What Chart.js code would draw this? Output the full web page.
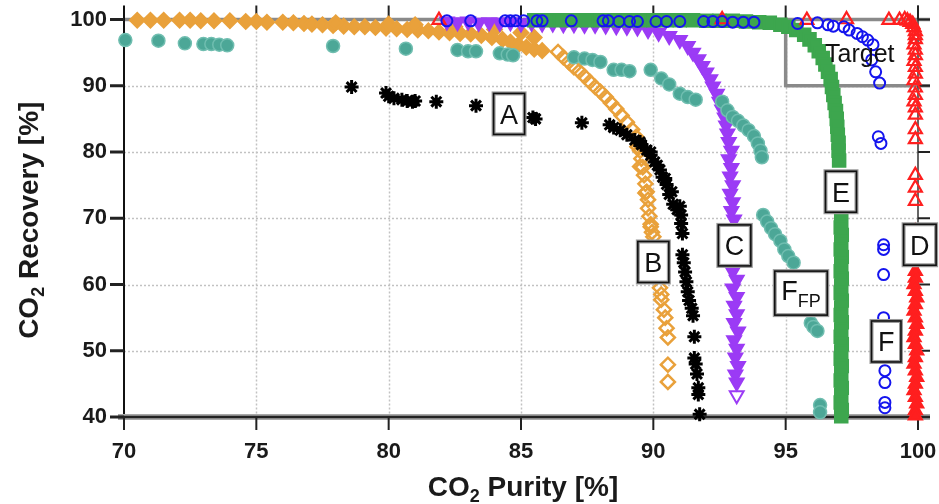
<!DOCTYPE html>
<html><head><meta charset="utf-8">
<script src="https://cdn.jsdelivr.net/npm/chart.js@4.4.1/dist/chart.umd.min.js"></script>
<style>html,body{margin:0;padding:0;background:#fff;}#wrap{width:939px;height:504px;}</style>
</head><body><div id="wrap"><canvas id="c" width="939" height="504" style="width:939px;height:504px"></canvas></div>
<script>
// ---- data: [CO2 purity %, CO2 recovery %] ----
const X_TICKS = [70, 75, 80, 85, 90, 95, 100];
const Y_TICKS = [40, 50, 60, 70, 80, 90, 100];
const X_TITLE = ['CO', '2', ' Purity [%]'];
const Y_TITLE = ['CO', '2', ' Recovery [%]'];

const SERIES_A = [[78.6,89.8],[79.9,88.9],[80.0,88.4],[80.2,88.1],[80.5,87.9],[80.7,87.7],[80.9,87.6],[81.0,87.7],[81.8,87.6],[83.3,87.0],[85.45,85.2],[85.55,85.0],[87.3,84.4],[88.35,84.1],[88.5,83.7],[88.75,83.3],[89.0,82.6],[89.3,81.8],[89.5,81.5],[89.55,81.1],[89.75,80.3],[89.9,80.0],[89.9,79.5],[90.05,78.5],[90.15,78.0],[90.25,77.3],[90.35,76.2],[90.45,76.0],[90.5,75.1],[90.6,73.6],[90.7,74.0],[90.75,72.1],[90.9,71.3],[91.0,71.8],[91.05,70.5],[91.05,69.2],[91.1,67.7],[91.1,64.5],[91.15,63.3],[91.2,61.9],[91.25,60.4],[91.3,58.9],[91.35,57.6],[91.45,56.4],[91.5,55.3],[91.55,52.1],[91.55,48.9],[91.6,48.0],[91.65,46.5],[91.7,44.4],[91.7,43.4],[91.75,40.4]];

const SERIES_B = [[70.5,99.9],[71.0,99.9],[71.5,99.9],[72.1,99.9],[72.5,99.9],[72.9,99.8],[73.4,99.8],[74.0,99.8],[74.6,99.7],[75.0,99.7],[75.4,99.6],[76.0,99.6],[76.4,99.5],[76.8,99.4],[77.1,99.3],[77.5,99.2],[77.9,99.1],[78.3,99.0],[78.7,98.9],[79.1,98.9],[79.5,98.8],[79.9,98.7],[80.3,98.6],[80.7,98.5],[81.1,98.4],[81.5,98.3],[81.9,98.1],[82.3,98.0],[82.7,97.9],[83.1,97.8],[83.5,97.6],[83.9,97.3],[84.3,97.0],[84.6,96.6],[84.9,96.2],[85.2,95.8],[85.5,95.5],[85.8,95.3],[81.0,99.2],[82.5,98.9],[84.0,98.5],[85.0,98.0],[85.5,97.3],[78.0,99.5],[80.0,99.3],
[86.4,95.1],[86.6,94.3],[86.8,93.6],[87.0,92.8],[87.2,92.2],[87.4,91.4],[87.6,90.6],[87.8,89.8],[88.0,89.1],[88.2,88.3],[88.4,87.4],[88.6,86.5],[88.8,85.5],[89.0,84.5],[89.2,83.4],[89.35,82.3],[89.4,80.8],[89.45,81.2],[89.5,80.2],[89.5,77.8],[89.55,79.0],[89.6,77.7],[89.65,76.5],[89.7,75.2],[89.7,73.8],[89.75,74.0],[89.8,72.8],[89.8,71.5],[89.85,70.3],[89.9,69.1],[89.9,68.7],[89.95,67.9],[90.0,67.2],
[90.25,59.5],[90.3,58.5],[90.3,57.7],[90.4,56.2],[90.45,55.0],[90.5,53.4],[90.55,52.0],[90.55,47.9],[90.55,45.3]];

const SERIES_C = [[82.2,99.7],[82.6,99.6],[83.0,99.7],[83.4,99.5],[83.8,99.6],[84.2,99.5],[84.6,99.6],[85.0,99.4],[85.4,99.5],[85.8,99.4],[86.2,99.4],[86.6,99.3],[87.0,99.3],[87.4,99.2],[87.8,99.2],[88.2,99.1],[88.6,99.0],[89.0,98.9],[89.4,98.8],[89.8,98.4],[90.2,98.0],[90.6,97.5],[91.0,96.9],[91.3,96.0],[91.5,95.0],[91.7,94.0],[91.85,93.0],[92.0,92.0],[92.15,91.0],[92.25,89.9],[92.4,88.8],[92.5,87.6],[92.6,86.4],[92.7,85.2],[92.75,84.0],[92.8,82.8],
[92.85,81.5],[92.95,80.2],[92.85,78.9],[92.95,77.6],[92.9,76.3],[93.0,75.0],[92.9,73.7],[93.0,72.4],[92.95,71.1],[93.05,69.8],[92.95,68.5],[93.05,67.2],[92.95,65.5],[93.05,63.3],[93.0,62.0],[93.15,60.7],[93.0,59.4],[93.15,58.1],[93.05,56.8],[93.15,55.5],[93.05,54.2],[93.2,52.9],[93.05,51.6],[93.15,50.3],[93.1,49.0],[93.2,47.7],[93.1,46.4],[93.15,45.2],[93.15,43.3]];

const SERIES_D = [[81.9,99.9],[92.6,100],[95.8,99.9],[97.3,100],[98.9,99.9],[99.3,99.9],[99.5,100],[99.6,99.8],[99.7,99.6],[99.8,99.3],[99.85,98.8],[99.9,98.2],[99.9,97.6],[99.9,97.0],[99.85,96.2],[99.9,95.4],[99.9,94.6],[99.85,93.7],[99.9,92.8],[99.9,91.8],[99.85,90.8],[99.9,89.7],[99.9,88.6],[99.85,87.6],[99.9,86.7],[99.9,85.6],[99.9,83.4],[99.9,81.9],[99.9,76.5],[99.9,74.6],[99.9,72.6],[99.9,68.0],
[99.9,62.0],[99.9,61.0],[99.85,60.0],[99.9,59.0],[99.95,58.0],[99.9,57.0],[99.85,56.0],[99.9,55.0],[99.95,54.0],[99.9,53.0],[99.85,52.0],[99.9,51.0],[99.95,50.0],[99.9,49.0],[99.85,48.0],[99.9,47.0],[99.95,46.0],[99.9,45.0],[99.85,44.0],[99.9,43.0],[99.95,42.0],[99.9,41.0],[99.9,40.2]];

const SERIES_E = [[85.5,99.9],[86.0,99.9],[86.5,99.9],[87.0,99.9],[87.5,99.9],[88.0,99.9],[88.5,99.9],[89.0,99.9],[89.5,99.9],[90.0,99.9],[90.5,99.9],[91.0,99.9],[91.5,99.9],[92.0,99.8],[92.5,99.8],[93.0,99.8],[93.5,99.7],[94.0,99.6],[94.4,99.5],[94.8,99.2],[95.1,98.9],[95.4,98.4],[95.7,97.7],[95.9,97.0],[96.1,96.1],[96.25,95.2],[96.4,94.2],[96.5,93.2],[96.6,92.1],[96.7,91.0],[96.75,89.8],[96.8,88.6],[96.85,87.4],[96.9,86.2],[96.93,85.0],[96.95,83.8],[96.97,82.6],[97.0,81.4],[97.0,80.2],[97.02,78.7],
[97.1,69.7],[97.08,68.6],[97.12,67.5],[97.1,66.4],[97.08,65.3],[97.12,64.2],[97.1,63.1],[97.08,62.0],[97.12,60.9],[97.1,59.8],[97.08,58.7],[97.12,57.6],[97.1,56.5],[97.08,55.4],[97.12,54.3],[97.1,53.2],[97.08,52.1],[97.12,51.0],[97.1,49.9],[97.08,48.8],[97.12,47.7],[97.1,46.6],[97.08,45.5],[97.12,44.4],[97.1,43.3],[97.08,42.2],[97.12,41.1],[97.1,40.1]];

const SERIES_F = [[82.2,99.8],[83.1,99.8],[84.4,99.8],[84.6,99.8],[84.8,99.8],[85.1,99.8],[85.6,99.8],[85.8,99.8],[86.9,99.8],[88.1,99.8],[88.3,99.8],[88.7,99.7],[89.1,99.7],[89.4,99.7],[90.1,99.7],[90.5,99.7],[91.0,99.7],[91.9,99.7],[92.25,99.7],[92.6,99.7],[93.0,99.6],[93.4,99.6],[93.8,99.6],[95.45,99.4],[96.2,99.5],[96.6,99.2],[96.8,99.0],[97.2,98.9],[97.4,98.4],[97.7,97.9],[97.9,97.4],[98.1,96.9],[98.3,96.2],[98.25,93.9],[98.4,92.1],[98.55,90.4],[98.5,82.3],[98.6,81.3],[98.7,66.0],[98.7,65.3],[98.7,61.5],[98.7,55.0],[98.75,47.0],[98.75,45.2],[98.75,42.2],[98.75,41.4]];

const SERIES_FFP = [[70.05,96.9],[71.3,96.8],[72.3,96.4],[73.0,96.3],[73.3,96.3],[73.6,96.2],[73.9,96.1],[77.9,96.0],[80.65,95.6],[82.6,95.4],[83.0,95.2],[83.3,95.2],[84.2,94.9],[84.5,94.7],[84.7,94.6],[87.0,94.3],[87.4,94.1],[87.7,93.9],[88.0,93.6],[88.5,92.4],[88.8,92.4],[89.1,92.2],[89.9,92.4],[90.3,91.1],[90.6,90.2],[91.0,88.8],[91.3,88.3],[91.6,87.9],[92.6,87.6],[92.8,86.3],[93.0,85.3],[93.2,84.7],[93.4,84.0],[93.6,83.3],[93.8,82.4],[93.95,81.3],[94.05,80.2],[94.1,79.2],[94.15,70.5],[94.3,69.5],[94.45,68.5],[94.6,67.6],[94.8,66.6],[94.95,65.3],[95.1,64.3],[95.3,63.3],[95.95,54.2],[96.05,53.6],[96.2,53.0],[96.3,41.8],[96.3,40.7]];

// boxed series labels
const LABEL_MAIN = ['A', 'B', 'C', 'D', 'E', 'F', 'F'];
const LABEL_SUB = ['', '', '', '', '', '', 'FP'];
const LABEL_PURITY = [84.55, 90.0, 93.07, 100.07, 97.09, 98.8, 95.58];
const LABEL_RECOVERY = [85.75, 63.4, 65.9, 66.0, 74.0, 51.4, 58.7];
const TARGET_PURITY = [95, 100];
const TARGET_RECOVERY = [90, 100];
const TARGET_TEXT = 'Target';
const TARGET_TEXT_AT = [97.8, 93.6];

const FONT = "'Liberation Sans', Arial, sans-serif";
const ORANGE = '#E9A13B', PURPLE = '#9B3BF5', GREEN = '#3DA64E', RED = '#FF1F1F',
      BLUE = '#1414EE', TEAL = '#4CA797', BLACK = '#000000';
const NONE = 'rgba(0,0,0,0)';
const pts = a => a.map(p => ({x: p[0], y: p[1]}));

const datasets = [
  {label: 'F', data: pts(SERIES_F), pointStyle: 'circle', pointRadius: 5.5, borderWidth: 2, borderColor: BLUE, backgroundColor: NONE, order: 0},
  {label: 'D', data: pts(SERIES_D), pointStyle: 'triangle', pointRadius: 7.5, borderWidth: 2.2, borderColor: RED,
    backgroundColor: c => (c.raw && c.raw.y < 63) ? RED : NONE, order: 1},
  {label: 'A', data: pts(SERIES_A), pointStyle: 'star', pointRadius: 7, borderWidth: 3, borderColor: BLACK, backgroundColor: BLACK, order: 2},
  {label: 'FFP', data: pts(SERIES_FFP), pointStyle: 'circle', pointRadius: 6.5, borderWidth: 1.5, borderColor: '#70BEB0', backgroundColor: TEAL, order: 3},
  {label: 'E', data: pts(SERIES_E), pointStyle: 'rect', pointRadius: 8.5, borderWidth: 2.5, borderColor: GREEN, backgroundColor: GREEN, order: 4},
  {label: 'C', data: pts(SERIES_C), pointStyle: 'triangle', rotation: 180, pointRadius: 8, borderWidth: 2, borderColor: PURPLE,
    backgroundColor: c => (c.raw && c.raw.y < 44) ? NONE : PURPLE, order: 5},
  {label: 'B', data: pts(SERIES_B), pointStyle: 'rectRot', pointRadius: 7, borderWidth: 2.5, borderColor: ORANGE,
    backgroundColor: c => (c.raw && c.raw.x < 86.2) ? ORANGE : NONE, order: 6}
].map(d => Object.assign({clip: false, pointHoverRadius: d.pointRadius}, d));

function line(ctx, x1, y1, x2, y2) { ctx.beginPath(); ctx.moveTo(x1, y1); ctx.lineTo(x2, y2); ctx.stroke(); }

function richWidth(ctx, main, sub, mainFont, subFont, rest) {
  ctx.font = mainFont; let w = ctx.measureText(main).width + (rest ? ctx.measureText(rest).width : 0);
  ctx.font = subFont; w += ctx.measureText(sub).width; return w;
}
function richDraw(ctx, x, y, main, sub, mainFont, subFont, subDy, rest) {
  ctx.textAlign = 'left'; ctx.textBaseline = 'alphabetic';
  ctx.font = mainFont; ctx.fillText(main, x, y); x += ctx.measureText(main).width;
  ctx.font = subFont; ctx.fillText(sub, x, y + subDy); x += ctx.measureText(sub).width;
  if (rest) { ctx.font = mainFont; ctx.fillText(rest, x, y); }
}

const framePlugin = {
  id: 'frame',
  beforeDatasetsDraw(chart) {
    const {ctx, chartArea: a, scales: {x, y}} = chart;
    ctx.save();
    ctx.strokeStyle = '#c2c2c2'; ctx.lineWidth = 1.5; ctx.setLineDash([2, 2]);
    X_TICKS.forEach(v => { if (v > x.min && v < x.max) { const p = Math.round(x.getPixelForValue(v)) + 0.5; line(ctx, p, a.top, p, a.bottom); } });
    Y_TICKS.forEach(v => { if (v > y.min && v < y.max) { const p = Math.round(y.getPixelForValue(v)) + 0.5; line(ctx, a.left, p, a.right, p); } });
    ctx.setLineDash([]);
    ctx.strokeStyle = '#8a8a8a'; ctx.lineWidth = 3.5;
    const tx0 = x.getPixelForValue(TARGET_PURITY[0]), ty0 = y.getPixelForValue(TARGET_RECOVERY[0]);
    const ty1 = y.getPixelForValue(TARGET_RECOVERY[1]);
    line(ctx, tx0, ty0, a.right + 12, ty0);
    line(ctx, tx0, ty0 + 1.5, tx0, ty1);
    line(ctx, a.left, a.top, a.right + 12, a.top);
    ctx.strokeStyle = '#333'; ctx.lineWidth = 1.5;
    line(ctx, a.right, a.top - 14, a.right, a.bottom);
    ctx.strokeStyle = '#111'; ctx.lineWidth = 2;
    line(ctx, a.left, a.top - 14, a.left, a.bottom);
    ctx.strokeStyle = '#a8a8a8'; ctx.lineWidth = 6;
    line(ctx, a.left - 6, a.bottom, a.right + 12, a.bottom);
    ctx.strokeStyle = '#222'; ctx.lineWidth = 2.5;
    line(ctx, a.left - 6, a.bottom, a.right + 12, a.bottom);
    ctx.strokeStyle = '#222'; ctx.lineWidth = 2;
    X_TICKS.forEach(v => { const p = x.getPixelForValue(v); line(ctx, p, a.bottom, p, a.bottom + 13); if (v > x.min) line(ctx, p, a.top, p, a.top - 14); });
    ctx.lineWidth = 3;
    Y_TICKS.forEach(v => { const p = y.getPixelForValue(v); line(ctx, a.left - 14, p, a.left, p); });
    ctx.lineWidth = 2;
    Y_TICKS.forEach(v => { const p = y.getPixelForValue(v); line(ctx, a.right, p, a.right + 12, p); });
    ctx.restore();
  },
  afterDatasetsDraw(chart) {
    const {ctx, chartArea: a, scales: {x, y}} = chart;
    ctx.save();
    ctx.fillStyle = '#111'; ctx.font = '25px ' + FONT; ctx.textAlign = 'center'; ctx.textBaseline = 'alphabetic';
    ctx.fillText(TARGET_TEXT, x.getPixelForValue(TARGET_TEXT_AT[0]), y.getPixelForValue(TARGET_TEXT_AT[1]));
    const mf = '27px ' + FONT, sf = '18px ' + FONT;
    LABEL_MAIN.forEach((m, i) => {
      const cx = x.getPixelForValue(LABEL_PURITY[i]), cy = y.getPixelForValue(LABEL_RECOVERY[i]);
      const w = richWidth(ctx, m, LABEL_SUB[i], mf, sf);
      const bw = w + 13, bh = LABEL_SUB[i] ? 44 : 41;
      const bx = cx - bw / 2, by = cy - bh / 2;
      ctx.fillStyle = '#fff'; ctx.fillRect(bx, by, bw, bh);
      ctx.strokeStyle = '#9a9a9a'; ctx.lineWidth = 4; ctx.strokeRect(bx, by, bw, bh);
      ctx.strokeStyle = '#111'; ctx.lineWidth = 1.6; ctx.strokeRect(bx, by, bw, bh);
      ctx.fillStyle = '#111';
      richDraw(ctx, cx - w / 2, cy + (LABEL_SUB[i] ? 7 : 10), m, LABEL_SUB[i], mf, sf, 7);
    });
    const tf = 'bold 28px ' + FONT, tsf = 'bold 18px ' + FONT;
    ctx.fillStyle = '#1a1a1a';
    let w = richWidth(ctx, X_TITLE[0], X_TITLE[1], tf, tsf, X_TITLE[2]);
    richDraw(ctx, (a.left + a.right) / 2 + 2 - w / 2, 496, X_TITLE[0], X_TITLE[1], tf, tsf, 6, X_TITLE[2]);
    w = richWidth(ctx, Y_TITLE[0], Y_TITLE[1], tf, tsf, Y_TITLE[2]);
    ctx.translate(38, (a.top + a.bottom) / 2 + 2);
    ctx.rotate(-Math.PI / 2);
    richDraw(ctx, -w / 2, 0, Y_TITLE[0], Y_TITLE[1], tf, tsf, 6, Y_TITLE[2]);
    ctx.restore();
  }
};

new Chart(document.getElementById('c'), {
  type: 'scatter',
  data: {datasets},
  plugins: [framePlugin],
  options: {
    responsive: false, animation: false, devicePixelRatio: 1,
    layout: {padding: {top: 19.5, right: 21, left: 0, bottom: 0}},
    plugins: {legend: {display: false}, tooltip: {enabled: false}},
    scales: {
      x: {type: 'linear', min: 70, max: 100, border: {display: false}, grid: {display: false, drawTicks: false},
        ticks: {stepSize: 5, autoSkip: false, maxRotation: 0, padding: 22, color: '#1a1a1a', font: {family: FONT, size: 22, weight: 'bold'}},
        afterFit(s) { s.height = 87; s.paddingLeft = 0; s.paddingRight = 0; s.paddingTop = 0; s.paddingBottom = 0; }},
      y: {type: 'linear', min: 40, max: 100, border: {display: false}, grid: {display: false, drawTicks: false},
        ticks: {stepSize: 10, autoSkip: false, padding: 17, color: '#1a1a1a', font: {family: FONT, size: 22, weight: 'bold'}},
        afterFit(s) { s.width = 124; s.paddingLeft = 0; s.paddingRight = 0; s.paddingTop = 0; s.paddingBottom = 0; }}
    }
  }
});
</script></body></html>
